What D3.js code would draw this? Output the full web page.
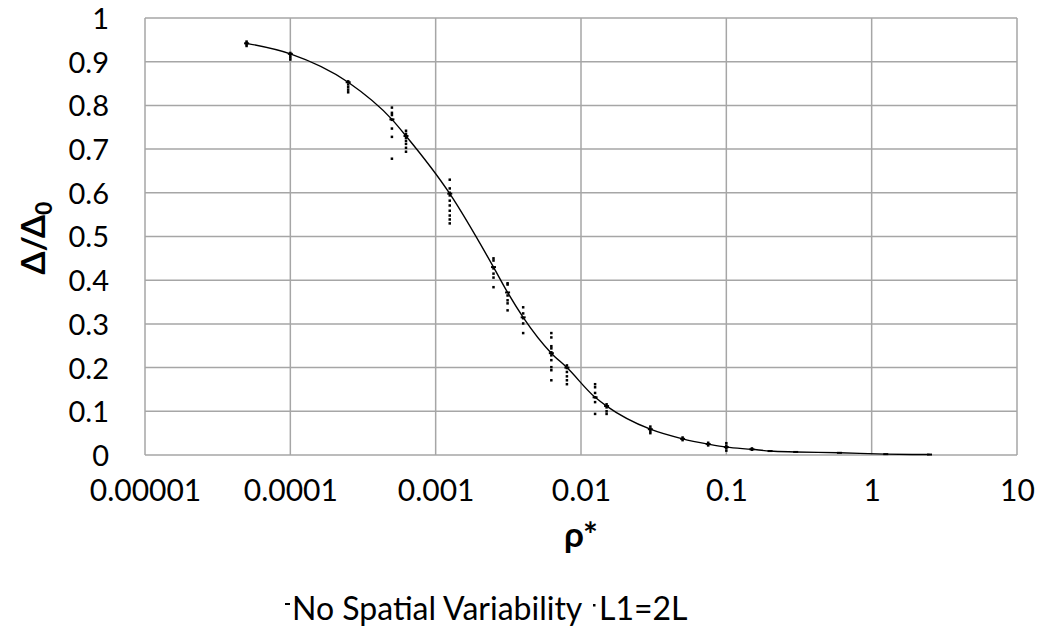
<!DOCTYPE html>
<html>
<head>
<meta charset="utf-8">
<script src="https://cdn.jsdelivr.net/npm/d3@7"></script>
<style>
  body { margin: 0; background: #fff; }
  svg text { font-family: Lato, "Open Sans", sans-serif; fill: #000; }
</style>
</head>
<body>
<div id="chart"></div>
<script>
// No Spatial Variability (line)
var rhoLine = [5e-5, 1e-4, 2.5e-4, 5e-4, 6.25e-4, 1.25e-3, 2.5e-3, 3.125e-3, 4e-3, 6.25e-3, 8e-3,
               1.25e-2, 1.5e-2, 3e-2, 5e-2, 7.5e-2, 0.1, 0.15, 0.2, 0.3, 0.6, 1.25, 2.5];
var deltaLine = [0.942, 0.918, 0.853, 0.768, 0.73, 0.598, 0.43, 0.372, 0.315, 0.233, 0.2,
                 0.132, 0.112, 0.059, 0.037, 0.025, 0.018, 0.013, 0.009, 0.007, 0.005, 0.002, 0.001];

// L1=2L (scatter, several realisations per rho)
var rhoL1 = [5e-5, 1e-4, 2.5e-4, 5e-4, 6.25e-4, 1.25e-3, 2.5e-3, 3.125e-3, 4e-3, 6.25e-3, 8e-3,
             1.25e-2, 1.5e-2, 3e-2, 5e-2, 7.5e-2, 0.1, 0.15];
var deltaL1 = [
  [0.946, 0.943, 0.94, 0.936],
  [0.92, 0.915, 0.91, 0.905],
  [0.855, 0.848, 0.842, 0.836, 0.83],
  [0.795, 0.783, 0.778, 0.767, 0.747, 0.728, 0.678],
  [0.742, 0.735, 0.726, 0.719, 0.712, 0.703, 0.694],
  [0.63, 0.61, 0.6, 0.594, 0.582, 0.571, 0.559, 0.548, 0.539, 0.53],
  [0.45, 0.445, 0.427, 0.415, 0.406, 0.384],
  [0.393, 0.39, 0.365, 0.354, 0.347, 0.331],
  [0.338, 0.324, 0.313, 0.301, 0.279],
  [0.279, 0.269, 0.249, 0.244, 0.235, 0.228, 0.217, 0.201, 0.194, 0.171],
  [0.205, 0.199, 0.19, 0.18, 0.171, 0.162],
  [0.162, 0.155, 0.142, 0.132, 0.121, 0.094],
  [0.116, 0.109, 0.1, 0.094],
  [0.065, 0.06, 0.055, 0.05],
  [0.04, 0.037, 0.034],
  [0.028, 0.025, 0.022],
  [0.027, 0.021, 0.016, 0.01],
  [0.015, 0.012]
];

var xTicks = [1e-5, 1e-4, 1e-3, 1e-2, 1e-1, 1, 10];
var xTickLabels = ["0.00001", "0.0001", "0.001", "0.01", "0.1", "1", "10"];
var yTicks = [0, 0.1, 0.2, 0.3, 0.4, 0.5, 0.6, 0.7, 0.8, 0.9, 1];

(function drawChart() {
    var width = 1037, height = 632;
    var plotLeft = 145, plotRight = 1017, plotTop = 18, plotBottom = 455;
    var gridColor = "#a6a6a6";

    var svg = d3.select("#chart").append("svg")
        .attr("width", width)
        .attr("height", height);

    var x = d3.scaleLog().domain([1e-5, 10]).range([plotLeft, plotRight]);
    var y = d3.scaleLinear().domain([0, 1]).range([plotBottom, plotTop]);

    // gridlines
    svg.append("g").selectAll("line")
        .data(yTicks).enter().append("line")
        .attr("x1", plotLeft).attr("x2", plotRight)
        .attr("y1", function(d) { return y(d); })
        .attr("y2", function(d) { return y(d); })
        .style("stroke", gridColor).style("stroke-width", 1.5);

    svg.append("g").selectAll("line")
        .data(xTicks).enter().append("line")
        .attr("x1", function(d) { return x(d); })
        .attr("x2", function(d) { return x(d); })
        .attr("y1", plotTop).attr("y2", plotBottom)
        .style("stroke", gridColor).style("stroke-width", 1.5);

    // axes (labels only, lines come from the grid)
    var yAxis = svg.append("g")
        .attr("transform", "translate(" + plotLeft + ",0)")
        .call(d3.axisLeft(y).tickValues(yTicks).tickSize(0).tickPadding(36)
            .tickFormat(function(d) { return String(+d.toFixed(1)); }));
    yAxis.select(".domain").remove();
    yAxis.selectAll("text").style("font-size", "29px").attr("dy", "0.36em");

    var xAxis = svg.append("g")
        .attr("transform", "translate(0," + plotBottom + ")")
        .call(d3.axisBottom(x).tickValues(xTicks).tickSize(0).tickPadding(35)
            .tickFormat(function(d, i) { return xTickLabels[i]; }));
    xAxis.select(".domain").remove();
    xAxis.selectAll("text").style("font-size", "30px").attr("dy", "0.36em");

    // line series
    var line = d3.line()
        .x(function(d) { return x(d[0]); })
        .y(function(d) { return y(d[1]); })
        .curve(d3.curveMonotoneX);

    var linePts = rhoLine.map(function(r, i) { return [r, deltaLine[i]]; });

    svg.append("path")
        .datum(linePts)
        .attr("d", line)
        .style("fill", "none")
        .style("stroke", "#000")
        .style("stroke-width", 1.4);

    svg.append("g").selectAll("rect")
        .data(linePts).enter().append("rect")
        .attr("x", function(d) { return x(d[0]) - 2.5; })
        .attr("y", function(d) { return y(d[1]) - 1; })
        .attr("width", 5).attr("height", 2)
        .style("fill", "#000");

    // scatter series
    var scatterPts = [];
    rhoL1.forEach(function(r, i) {
        deltaL1[i].forEach(function(v) { scatterPts.push([r, v]); });
    });

    svg.append("g").selectAll("rect")
        .data(scatterPts).enter().append("rect")
        .attr("x", function(d) { return x(d[0]) - 1.25; })
        .attr("y", function(d) { return y(d[1]) - 1.25; })
        .attr("width", 2.5).attr("height", 2.5)
        .style("fill", "#000");

    // axis titles
    var yTitle = svg.append("text")
        .attr("transform", "translate(45,238) rotate(-90)")
        .attr("text-anchor", "middle")
        .style("font-size", "33px")
        .style("font-weight", "bold");
    yTitle.append("tspan").text("\u0394/\u0394");
    yTitle.append("tspan").attr("dy", 7).style("font-size", "23px").text("0");

    svg.append("text")
        .attr("x", (plotLeft + plotRight) / 2)
        .attr("y", 547)
        .attr("text-anchor", "middle")
        .style("font-size", "35px")
        .style("font-weight", "bold")
        .text("\u03c1*");

    // legend
    var legend = svg.append("g");
    legend.append("rect")
        .attr("x", 285).attr("y", 603).attr("width", 5).attr("height", 2)
        .style("fill", "#000");
    legend.append("text")
        .attr("x", 292).attr("y", 620)
        .style("font-size", "32px")
        .text("No Spatial Variability");
    legend.append("rect")
        .attr("x", 593).attr("y", 604).attr("width", 2.5).attr("height", 2.5)
        .style("fill", "#000");
    legend.append("text")
        .attr("x", 599).attr("y", 620)
        .style("font-size", "32px")
        .text("L1=2L");
})();
</script>
</body>
</html>
